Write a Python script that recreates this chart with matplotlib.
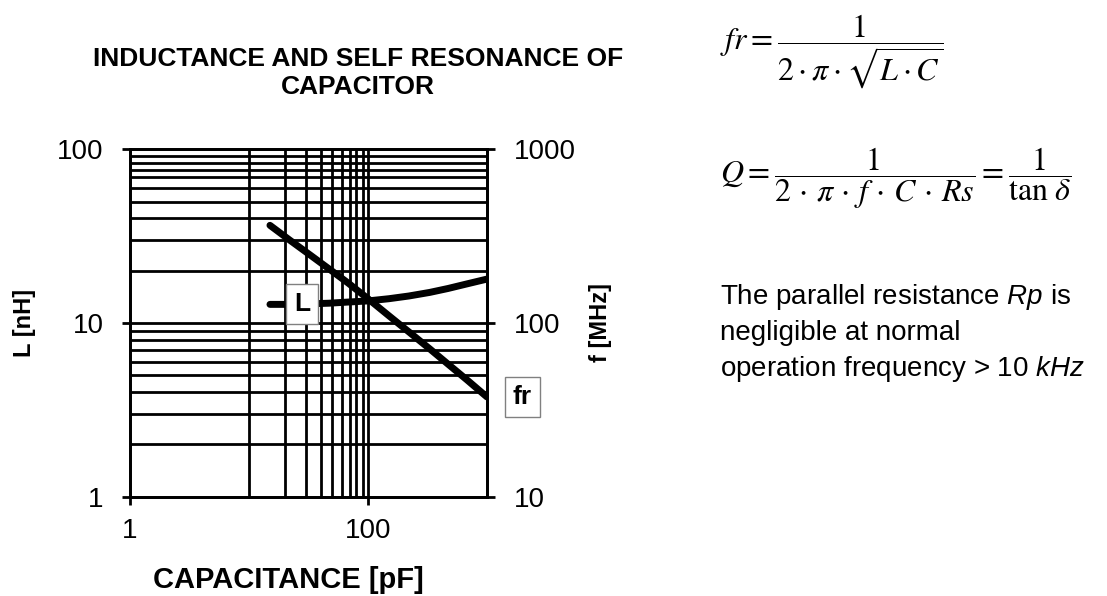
import matplotlib
matplotlib.use('Agg')
import matplotlib.pyplot as plt

plt.rcParams['font.family'] = ['Liberation Sans', 'DejaVu Sans']
plt.rcParams['mathtext.fontset'] = 'custom'
plt.rcParams['mathtext.it'] = 'Liberation Sans:italic'
plt.rcParams['mathtext.rm'] = 'Liberation Sans'

# capacitance [pF]
cap = [15, 22, 33, 47, 68, 100, 150, 220, 330, 470, 680, 1000]
# inductance [nH], left axis
ind = [12.8, 12.8, 12.9, 13.0, 13.2, 13.4, 13.8, 14.3, 15.0, 15.8, 16.8, 17.9]
# self resonance frequency [MHz], right axis
fres = [365, 300, 245, 205, 170, 138, 110, 89, 71, 58, 47, 37.5]

x_ticks = [1, 100]
y_ticks = [1, 10, 100]
y2_ticks = [10, 100, 1000]
x_grid = [10, 20, 30, 40, 50, 60, 70, 80, 90, 100]
y_grid = [2, 3, 4, 5, 6, 7, 8, 9, 10, 20, 30, 40, 50, 60, 69, 76, 83, 91]

W, H = 1107, 596
fig = plt.figure(figsize=(W / 100, H / 100), dpi=100)
ax = fig.add_axes([130 / W, 1 - 496.7 / H, 357 / W, 347.4 / H])
ax.set_xscale('log')
ax.set_yscale('log')
ax.set_xlim(1, 1000)
ax.set_ylim(1, 100)

for v in x_grid:
    ax.axvline(v, color='black', lw=2, zorder=1)
for h in y_grid:
    ax.axhline(h, color='black', lw=2, zorder=1)

ax.plot(cap, ind, color='black', lw=5, solid_capstyle='round', zorder=3)

ax.set_xticks(x_ticks, ['1', '100'])
ax.set_yticks(y_ticks, ['1', '10', '100'])
ax.minorticks_off()
ax.tick_params(axis='both', direction='out', length=6, width=2, labelsize=20)
ax.tick_params(axis='y', pad=13)
ax.tick_params(axis='x', pad=9)
for s in ax.spines.values():
    s.set_linewidth(2)

ax2 = ax.twinx()
ax2.set_yscale('log')
ax2.set_ylim(10, 1000)
ax2.plot(cap, fres, color='black', lw=5, solid_capstyle='round', zorder=3)
ax2.set_yticks(y2_ticks, ['10', '100', '1000'])
ax2.minorticks_off()
ax2.tick_params(axis='y', direction='out', length=6, width=2, labelsize=20, pad=13)
for s in ax2.spines.values():
    s.set_linewidth(2)

box = dict(boxstyle='square,pad=0.3', facecolor='white', edgecolor='#808080', lw=1)
ax2.text(28, 12.8, 'L', transform=ax.transData, fontsize=19, fontweight='bold',
         ha='center', va='center', bbox=box, zorder=5)
ax2.text(1973, 3.75, 'fr', transform=ax.transData, fontsize=19, fontweight='bold',
         ha='center', va='center', bbox=box, zorder=5, clip_on=False)

fig.text(358 / W, 1 - 73 / H, 'INDUCTANCE AND SELF RESONANCE OF\nCAPACITOR',
         fontsize=19, fontweight='bold', ha='center', va='center')
fig.text(153 / W, 1 - 580 / H, 'CAPACITANCE [pF]', fontsize=21, fontweight='bold',
         ha='left', va='center')
fig.text(24 / W, 1 - 323 / H, 'L [nH]', fontsize=17, fontweight='bold',
         rotation=90, ha='center', va='center')
fig.text(600 / W, 1 - 322 / H, 'f [MHz]', fontsize=17, fontweight='bold',
         rotation=90, ha='center', va='center')

fig.text(720 / W, 1 - 49 / H, r'$fr=\dfrac{1}{2\cdot\pi\cdot\sqrt{L\cdot C}}$',
         fontsize=23, math_fontfamily='stix', ha='left', va='baseline')
fig.text(720 / W, 1 - 183 / H,
         r'$Q=\dfrac{1}{2\,\cdot\,\pi\,\cdot\, f\,\cdot\, C\,\cdot\, Rs}=\dfrac{1}{\tan\,\delta}$',
         fontsize=23, math_fontfamily='stix', ha='left', va='baseline')

fig.text(720 / W, 1 - 304 / H, r'The parallel resistance $Rp$ is', fontsize=20, va='baseline')
fig.text(720 / W, 1 - 340 / H, 'negligible at normal', fontsize=20, va='baseline')
fig.text(720 / W, 1 - 376 / H, r'operation frequency > 10 $kHz$', fontsize=20, va='baseline')

fig.savefig('out.png', dpi=100)
